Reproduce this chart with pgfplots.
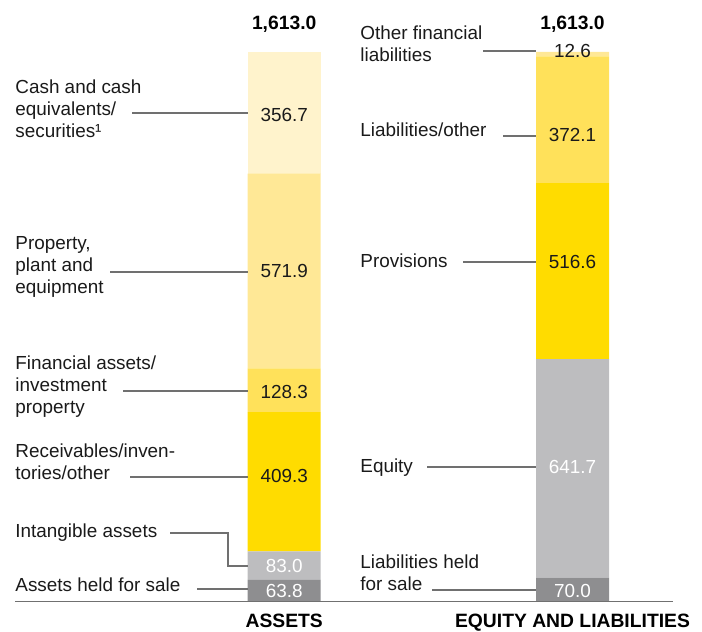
\documentclass[border=0pt]{standalone}
\usepackage{pgfplots}
\pgfplotsset{compat=1.18}
\usepackage{fontspec}
\setmainfont{Liberation Sans}
\definecolor{vly}{HTML}{FFF3CC}
\definecolor{ly}{HTML}{FFE896}
\definecolor{my}{HTML}{FFE15A}
\definecolor{gy}{HTML}{FFDC00}
\definecolor{lg}{HTML}{BDBDBF}
\definecolor{dg}{HTML}{8E8E90}
\definecolor{leadc}{HTML}{707070}
\definecolor{txt}{HTML}{1A1A1A}
\newcommand{\Y}[1]{(601.5-#1)*2.9354}
\newcommand{\lab}[3]{\node[anchor=base west,inner sep=0pt,text=txt] at (axis cs:#1,{\Y{#2}}) {#3};}
\newcommand{\val}[4]{\node[anchor=center,inner sep=0pt,text=#4] at (axis cs:#1,{\Y{#2}}) {#3};}
\newcommand{\lead}[3]{\draw[leadc,line width=0.55pt] (axis cs:#1,{\Y{#3}}) -- (axis cs:#2,{\Y{#3}});}
\newcommand{\bfs}{\fontsize{9.65}{11}\selectfont\bfseries}
\begin{document}
\fontsize{9.45}{11}\selectfont
\begin{tikzpicture}
\begin{axis}[
  set layers=standard,
  scale only axis, width=351pt, height=315.5pt,
  xmin=0, xmax=702, ymin=-86.59, ymax=1765.64,
  hide axis, clip=false,
  ybar stacked, bar width=73,
]
\path (axis cs:0,-86.59) rectangle (axis cs:702,1765.64);
\addplot[fill=dg, draw=none, on layer=axis background] coordinates {(284.2,63.8) (572.5,70.0)};
\addplot[fill=lg, draw=none, on layer=axis background] coordinates {(284.2,83.0) (572.5,641.7)};
\addplot[fill=gy, draw=none, on layer=axis background] coordinates {(284.2,409.3) (572.5,516.6)};
\addplot[fill=my, draw=none, on layer=axis background] coordinates {(284.2,128.3) (572.5,372.1)};
\addplot[fill=ly, draw=none, on layer=axis background] coordinates {(284.2,571.9) (572.5,12.6)};
\addplot[fill=vly, draw=none, on layer=axis background] coordinates {(284.2,356.7) (572.5,0)};

% baseline
\draw[color=leadc, line width=0.6pt] (axis cs:15,{\Y{601.8}}) -- (axis cs:673,{\Y{601.8}});

% totals
\node[anchor=base,inner sep=0pt,font=\bfs] at (axis cs:284.2,{\Y{30}}) {1,613.0};
\node[anchor=base,inner sep=0pt,font=\bfs] at (axis cs:572.5,{\Y{30}}) {1,613.0};
\node[anchor=base,inner sep=0pt,font=\bfs] at (axis cs:284.2,{\Y{628}}) {ASSETS};
\node[anchor=base,inner sep=0pt,font=\bfs] at (axis cs:572.5,{\Y{628}}) {EQUITY AND LIABILITIES};

% values assets
\val{284.2}{115}{356.7}{txt}
\val{284.2}{271}{571.9}{txt}
\val{284.2}{391.5}{128.3}{txt}
\val{284.2}{476}{409.3}{txt}
\val{284.2}{566}{83.0}{white}
\val{284.2}{591}{63.8}{white}
% values equity
\val{572.5}{51}{12.6}{txt}
\val{572.5}{135}{372.1}{txt}
\val{572.5}{262}{516.6}{txt}
\val{572.5}{467}{641.7}{white}
\val{572.5}{591}{70.0}{white}

% left labels
\lab{15}{94}{Cash and cash}
\lab{15}{116}{equivalents/}
\lab{15}{138}{securities¹}
\lead{132}{247.7}{113}
\lab{15}{250}{Property,}
\lab{15}{272}{plant and}
\lab{15}{294}{equipment}
\lead{110}{247.7}{272}
\lab{15}{370}{Financial assets/}
\lab{15}{392}{investment}
\lab{15}{414}{property}
\lead{123}{247.7}{391}
\lab{15}{458}{Receivables/inven-}
\lab{15}{480}{tories/other}
\lead{130}{247.7}{477}
\lab{15}{538}{Intangible assets}
\draw[leadc,line width=0.55pt] (axis cs:170,{\Y{533}}) -- (axis cs:228,{\Y{533}}) -- (axis cs:228,{\Y{566}}) -- (axis cs:247.7,{\Y{566}});
\lab{15}{592}{Assets held for sale}
\lead{197}{247.7}{589}

% right labels
\lab{360}{40}{Other financial}
\lab{360}{62}{liabilities}
\lead{483}{536}{51}
\lab{360}{137}{Liabilities/other}
\lead{503}{536}{136}
\lab{360}{268}{Provisions}
\lead{463}{536}{262}
\lab{360}{473}{Equity}
\lead{427}{536}{467}
\lab{360}{569}{Liabilities held}
\lab{360}{591}{for sale}
\lead{432}{536}{590}
\end{axis}
\end{tikzpicture}
\end{document}
